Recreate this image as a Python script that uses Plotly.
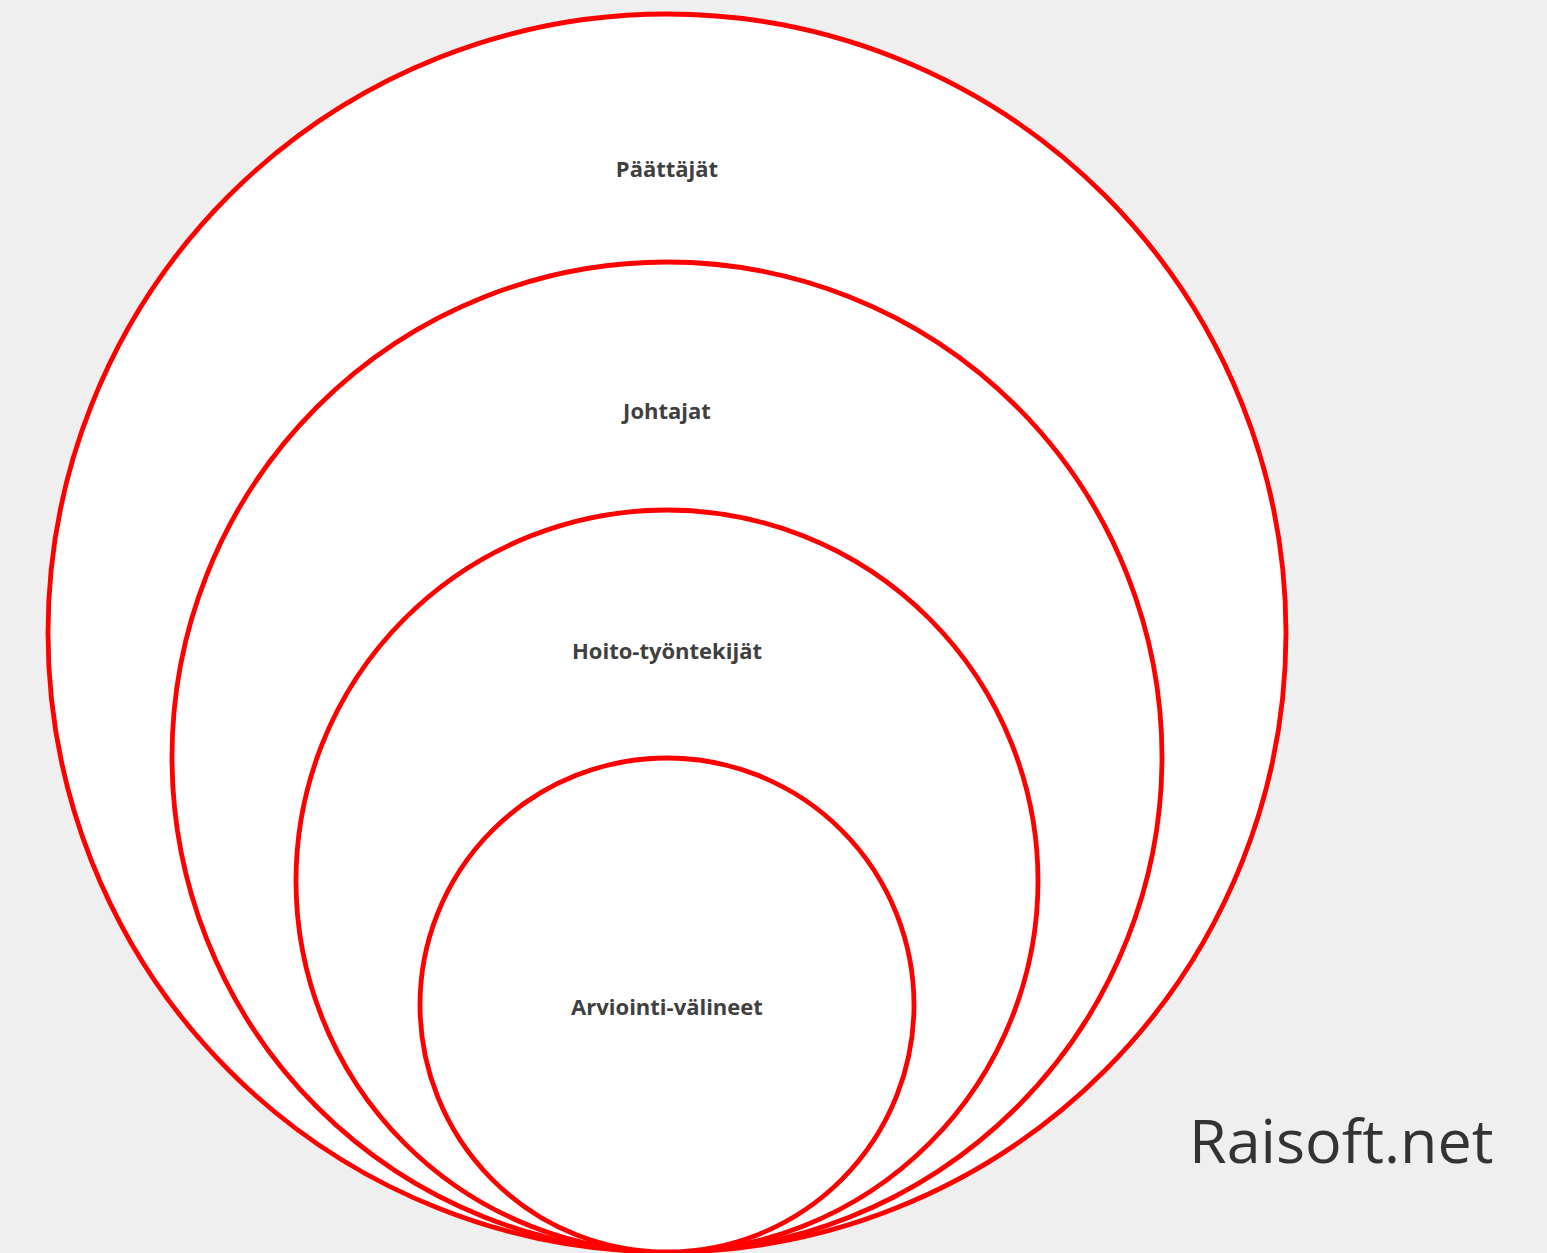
import plotly.graph_objects as go

# Data
levels = ["Päättäjät", "Johtajat", "Hoito-työntekijät", "Arviointi-välineet"]
radii = [619, 495, 371, 247]
label_offsets = [157, 151, 143, 251]  # label distance below the circle top
watermark = "Raisoft.net"

W, H = 1547, 1253
cx, base_y = 667, 1252

fig = go.Figure()
shapes = []
for r in radii:
    cy = base_y - r
    shapes.append(dict(type="circle", xref="x", yref="y",
                       x0=cx - r, x1=cx + r, y0=cy - r, y1=cy + r,
                       line=dict(color="#ff0000", width=4.8),
                       fillcolor="white", layer="below"))

label_y = [base_y - 2 * r + off for r, off in zip(radii, label_offsets)]
fig.add_trace(go.Scatter(
    x=[cx] * len(levels), y=label_y, text=[f"<b>{t}</b>" for t in levels],
    mode="text", textposition="middle center",
    textfont=dict(family="Open Sans", size=22, color="#404040"),
    hoverinfo="skip", showlegend=False))

fig.add_annotation(x=1341, y=1139, xref="x", yref="y", text=watermark,
                   showarrow=False, xanchor="center", yanchor="middle",
                   font=dict(family="Open Sans", size=61, color="#333333"))

fig.update_layout(
    width=W, height=H, margin=dict(l=0, r=0, t=0, b=0),
    paper_bgcolor="#efefef", plot_bgcolor="#efefef",
    shapes=shapes,
    xaxis=dict(range=[0, W], visible=False, fixedrange=True),
    yaxis=dict(range=[H, 0], visible=False, fixedrange=True),
)
fig.write_html("out.html", config={"displayModeBar": False},
               post_script="document.body.style.margin='0';document.body.style.background='#efefef';document.body.style.overflow='hidden';")
